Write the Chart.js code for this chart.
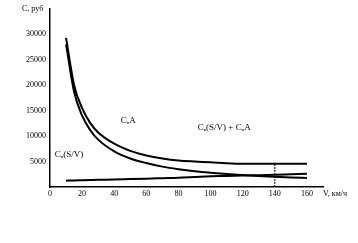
<!DOCTYPE html>
<html>
<head>
<meta charset="utf-8">
<script src="https://cdn.jsdelivr.net/npm/chart.js@4"></script>
<style>
  html, body { margin: 0; padding: 0; background: #fff; }
  #wrap { width: 358px; height: 243px; }
</style>
</head>
<body>
<div id="wrap"><canvas id="costChart"></canvas></div>
<script>
// speed, km/h
const speeds = [10, 15, 20, 25, 30, 40, 50, 60, 70, 80, 90, 100, 110, 120, 130, 140, 150, 160];
// total cost curve (upper)
const totalCost = [29300, 20000, 15500, 12600, 10700, 8500, 7100, 6200, 5600, 5200, 5000, 4850, 4650, 4550, 4550, 4550, 4550, 4550];
// decreasing curve
const areaCost = [28000, 18700, 14000, 11200, 9300, 7000, 5600, 4700, 4000, 3500, 3100, 2800, 2550, 2350, 2150, 2000, 1870, 1760];
// slowly rising line
const svCost = [1250, 1280, 1320, 1360, 1400, 1450, 1550, 1640, 1720, 1800, 1950, 2100, 2170, 2250, 2320, 2400, 2500, 2600];
// optimum marker
const optimumSpeed = 140;
const optimumCost = 4550;

const xTicks = [0, 20, 40, 60, 80, 100, 120, 140, 160];
const yTicks = [5000, 10000, 15000, 20000, 25000, 30000];

// text notes placed in data coordinates: [main, subscript, rest, x, y]
const notes = [
    ['C', 'в', '(S/V)', 3, 6300],
    ['C', 'п', 'A', 44, 13100],
    ['C', 'в', '(S/V) + C', 92, 11700]
];

const font = 'Liberation Serif';

function pts(ys) {
    return speeds.map((v, i) => ({ x: v, y: ys[i] }));
}

// draws axis captions and curve notes
const notesPlugin = {
    id: 'notes',
    afterDraw(chart) {
        const ctx = chart.ctx;
        const xs = chart.scales.x, ys = chart.scales.y;
        ctx.save();
        ctx.fillStyle = '#000';
        ctx.textBaseline = 'middle';
        notes.forEach((n, i) => {
            let x = xs.getPixelForValue(n[3]);
            const y = ys.getPixelForValue(n[4]);
            ctx.font = '9px "' + font + '"';
            ctx.fillText(n[0], x, y);
            x += ctx.measureText(n[0]).width;
            ctx.font = '5px "' + font + '"';
            ctx.fillText(n[1], x, y + 2);
            x += ctx.measureText(n[1]).width;
            ctx.font = '9px "' + font + '"';
            ctx.fillText(n[2], x, y);
            x += ctx.measureText(n[2]).width;
            if (i === 2) {
                ctx.font = '5px "' + font + '"';
                ctx.fillText('п', x, y + 2);
                x += ctx.measureText('п').width;
                ctx.font = '9px "' + font + '"';
                ctx.fillText('A', x, y);
            }
        });
        ctx.font = '8px "' + font + '"';
        ctx.fillText('C, руб', 22, 9);
        ctx.fillText('V, км/ч', 323, 194);
        ctx.restore();
    }
};

const ctx = document.getElementById('costChart').getContext('2d');
new Chart(ctx, {
    type: 'line',
    data: {
        datasets: [
            {
                data: pts(totalCost),
                borderColor: '#000',
                borderWidth: 2,
                cubicInterpolationMode: 'monotone',
                pointRadius: 0
            },
            {
                data: pts(areaCost),
                borderColor: '#000',
                borderWidth: 2,
                cubicInterpolationMode: 'monotone',
                pointRadius: 0
            },
            {
                data: pts(svCost),
                borderColor: '#000',
                borderWidth: 2,
                cubicInterpolationMode: 'monotone',
                pointRadius: 0
            },
            {
                data: [{ x: optimumSpeed, y: 0 }, { x: optimumSpeed, y: optimumCost }],
                borderColor: '#000',
                borderWidth: 1,
                borderDash: [2, 1],
                pointRadius: 0
            }
        ]
    },
    options: {
        responsive: true,
        maintainAspectRatio: false,
        animation: false,
        layout: { padding: { left: 0, right: 35, top: 6, bottom: 0 } },
        plugins: {
            legend: { display: false },
            tooltip: { enabled: false }
        },
        scales: {
            x: {
                type: 'linear',
                min: 0,
                max: 170,
                afterBuildTicks: (s) => { s.ticks = xTicks.map(v => ({ value: v })); },
                afterFit: (s) => { s.height = 56; },
                grid: { display: false, drawTicks: false, tickLength: 0 },
                border: { color: '#000', width: 1.5 },
                ticks: {
                    color: '#000',
                    padding: 2,
                    maxRotation: 0,
                    callback: (v) => String(v),
                    font: { family: font, size: 8 }
                }
            },
            y: {
                min: 0,
                max: 35000,
                afterBuildTicks: (s) => { s.ticks = yTicks.map(v => ({ value: v })); },
                afterFit: (s) => { s.width = 50; },
                grid: { display: false, drawTicks: false, tickLength: 0 },
                border: { color: '#000', width: 1.5 },
                ticks: {
                    color: '#000',
                    padding: 4,
                    callback: (v) => String(v),
                    font: { family: font, size: 8 }
                }
            }
        }
    },
    plugins: [notesPlugin]
});
</script>
</body>
</html>
